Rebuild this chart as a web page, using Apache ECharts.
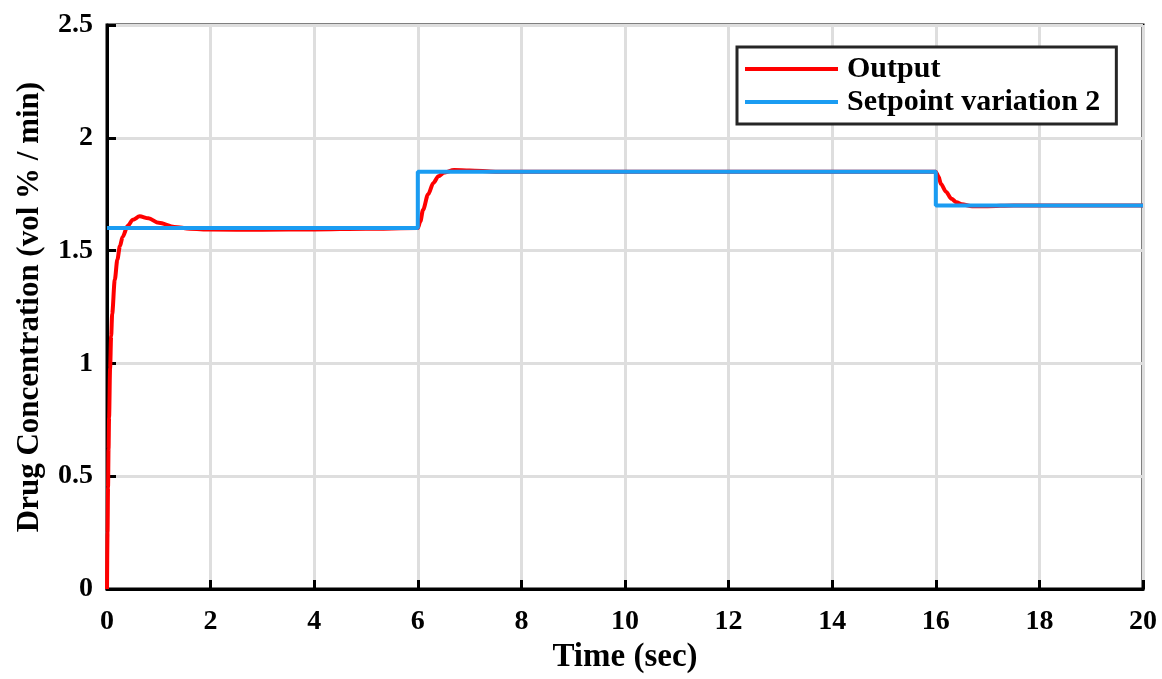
<!DOCTYPE html>
<html>
<head>
<meta charset="utf-8">
<script src="https://cdn.jsdelivr.net/npm/echarts@6/dist/echarts.min.js"></script>
<style>
html,body{margin:0;padding:0;background:#fff;}
#chart{width:1162px;height:679px;}
</style>
</head>
<body>
<div id="chart"></div>
<script>
// time (sec) of the red output samples
var outputTime = [0, 0.01, 0.02, 0.03, 0.04, 0.06, 0.08, 0.1, 0.15, 0.2, 0.25, 0.3, 0.4, 0.5, 0.63, 0.8, 1.0, 1.3, 1.6, 2, 3, 4, 5, 6,
	6.05, 6.1, 6.2, 6.3, 6.4, 6.5, 6.7, 7, 7.5, 10, 16,
	16.05, 16.1, 16.2, 16.3, 16.4, 16.5, 16.7, 17, 17.5, 20];
var outputValue = [0, 0.25, 0.45, 0.62, 0.76, 0.98, 1.12, 1.22, 1.37, 1.46, 1.52, 1.56, 1.61, 1.637, 1.652, 1.643, 1.623, 1.605, 1.597, 1.593, 1.592, 1.594, 1.597, 1.6,
	1.63, 1.68, 1.75, 1.8, 1.83, 1.845, 1.857, 1.855, 1.85, 1.85, 1.85,
	1.83, 1.795, 1.76, 1.73, 1.714, 1.705, 1.697, 1.697, 1.7, 1.7];
// setpoint steps
var setTime = [0, 6, 6, 16, 16, 20];
var setValue = [1.6, 1.6, 1.85, 1.85, 1.7, 1.7];
var xTicks = [0, 20, 2];
var yTicks = [0, 2.5, 0.5];

var font = 'Liberation Serif';
function pairs(xs, ys){
	return xs.map(function(x, i){ return [x, ys[i]]; });
}

var chart = echarts.init(document.getElementById('chart'));
var option = {
	animation:false,
	backgroundColor:'#fff',
	grid:{
		left:107,
		top:25,
		right:19,
		bottom:90,
		show:true,
		borderColor:'#000',
		borderWidth:3
	},
	legend:{
		orient:'vertical',
		left:737,
		top:47,
		padding:[7, 16, 7, 8],
		itemGap:3,
		itemWidth:93,
		itemHeight:4,
		backgroundColor:'#fff',
		borderColor:'#262626',
		borderWidth:3,
		textStyle:{fontFamily:font, fontWeight:'bold', fontSize:30, color:'#000', lineHeight:30, padding:[0,0,0,4]},
		data:[
			{name:'Output', icon:'rect'},
			{name:'Setpoint variation 2', icon:'rect'}
		]
	},
	xAxis:{
		type:'value',
		min:xTicks[0],
		max:xTicks[1],
		interval:xTicks[2],
		name:'Time (sec)',
		nameLocation:'middle',
		nameGap:46,
		nameTextStyle:{fontFamily:font, fontWeight:'bold', fontSize:33, color:'#000'},
		axisLine:{lineStyle:{color:'#000', width:3}},
		axisTick:{inside:true, length:9, lineStyle:{color:'#000', width:3}},
		axisLabel:{fontFamily:font, fontWeight:'bold', fontSize:28, color:'#000', margin:19},
		splitLine:{show:true, lineStyle:{color:'#dedede', width:3}}
	},
	yAxis:{
		type:'value',
		min:yTicks[0],
		max:yTicks[1],
		interval:yTicks[2],
		name:'Drug Concentration (vol % / min)',
		nameLocation:'middle',
		nameGap:62,
		nameTextStyle:{fontFamily:font, fontWeight:'bold', fontSize:31, color:'#000'},
		axisLine:{lineStyle:{color:'#000', width:3}},
		axisTick:{inside:true, length:9, lineStyle:{color:'#000', width:3}},
		axisLabel:{fontFamily:font, fontWeight:'bold', fontSize:28, color:'#000', margin:14},
		splitLine:{show:true, lineStyle:{color:'#dedede', width:3}}
	},
	series:[
		{
			name:'Output',
			type:'line',
			data:pairs(outputTime, outputValue),
			showSymbol:false,
			smooth:0.3,
			smoothMonotone:'x',
			color:'#ff0000',
			lineStyle:{color:'#ff0000', width:4}
		},
		{
			name:'Setpoint variation 2',
			type:'line',
			data:pairs(setTime, setValue),
			showSymbol:false,
			color:'#1a9cf2',
			lineStyle:{color:'#1a9cf2', width:4}
		}
	]
};
chart.setOption(option);
</script>
</body>
</html>
